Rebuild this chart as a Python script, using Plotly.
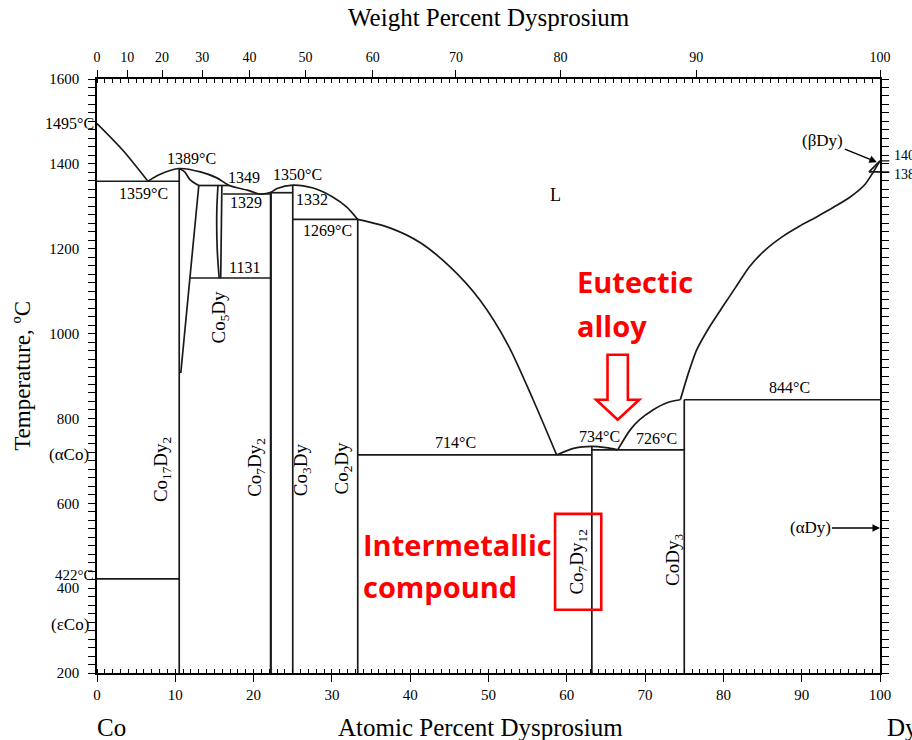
import plotly.graph_objects as go

# ---------------------------------------------------------------
# Co-Dy binary phase diagram (x: at.% Dy, y: temperature in degC)
# ---------------------------------------------------------------

# Atomic masses used to place the weight-percent scale on the top axis
M_CO = 58.933
M_DY = 162.50
weight_ticks = [0, 10, 20, 30, 40, 50, 60, 70, 80, 90, 100]

# Liquidus, Co-rich end: Co melting point down to the 1359 eutectic
liq_co_at = [0, 3.3, 6.5]
liq_co_T = [1495, 1432, 1359]

# Liquidus across Co17Dy2 / Co5Dy / Co7Dy2 / Co3Dy down to the 1269 peritectic
liq_mid_at = [6.5, 8.0, 10.5, 13.2, 15.3, 16.9, 19.2, 20.8, 22.2, 23.0, 25.0, 27.6, 30.1, 31.9, 33.3]
liq_mid_T = [1359, 1375, 1389, 1381, 1367, 1349, 1338, 1329, 1333, 1342, 1350, 1343, 1322, 1298, 1269]

# Liquidus from the 1269 peritectic down to the 714 eutectic
liq_big_at = [33.3, 37.4, 41.3, 45.1, 48.9, 52.5, 55.7, 58.7]
liq_big_T = [1269, 1249, 1214, 1157, 1079, 973, 844, 714]

# Small liquidus dome over Co7Dy12 and the 726 eutectic
liq_dome_at = [58.7, 61.0, 63.2, 65.0, 66.5]
liq_dome_T = [714, 730, 734, 731, 726]

# Liquidus from the 726 eutectic up to the 844 peritectic
liq_rise_at = [66.5, 68.1, 69.3, 71.0, 72.8, 74.5]
liq_rise_T = [726, 773, 797, 820, 837, 844]

# Liquidus from the 844 peritectic up to Dy melting point
liq_dy_at = [74.5, 75.5, 76.6, 78.2, 79.9, 81.6, 83.3, 85.4, 87.5, 89.7, 91.9, 94.0, 96.2, 98.1, 100]
liq_dy_T = [844, 905, 962, 1015, 1063, 1110, 1157, 1198, 1228, 1253, 1275, 1297, 1322, 1352, 1407]

# Solidus at the top of Co17Dy2 and its high-temperature Dy-side boundary
sol17_at = [10.5, 11.2, 11.9, 13.0]
sol17_T = [1389, 1381, 1362, 1349]
bound17_at = [13.0, 10.7]
bound17_T = [1349, 907]

# Co5Dy homogeneity range
co5dy_left_at = [15.45, 15.3, 15.35, 15.6]
co5dy_left_T = [1349, 1290, 1200, 1131]
co5dy_right_at = [15.95, 15.8]
co5dy_right_T = [1349, 1131]

# Dy allotropes
dy_melt = 1407
dy_trans = 1381
beta_dy_at = [100, 98.6, 100]
beta_dy_T = [dy_melt, dy_trans, dy_trans]

# Invariant isotherms
iso_T = [1359, 1349, 1329, 1332, 1269, 1131, 714, 726, 844, 422]
iso_from = [0, 13.0, 16.1, 22.2, 25.0, 11.9, 33.3, 63.2, 75.0, 0]
iso_to = [10.5, 16.9, 22.2, 25.0, 33.3, 22.2, 63.2, 75.0, 100, 10.5]

# Line compounds
comp_at = [10.5, 22.2, 25.0, 33.3, 63.2, 75.0]
comp_top = [1389, 1332, 1350, 1269, 734, 844]
comp_names = ["Co<sub>17</sub>Dy<sub>2</sub>", "Co<sub>7</sub>Dy<sub>2</sub>", "Co<sub>3</sub>Dy",
              "Co<sub>2</sub>Dy", "Co<sub>7</sub>Dy<sub>12</sub>", "CoDy<sub>3</sub>"]

T_MIN, T_MAX = 200, 1600

SERIF = "Liberation Serif"
RED = "#ff0000"
LINE = "#1a1a1a"

fig = go.Figure()


def add_curve(xs, ys, width=1.7, smooth=0.0):
    line = dict(color=LINE, width=width)
    if smooth:
        line.update(shape="spline", smoothing=smooth)
    fig.add_trace(go.Scatter(x=xs, y=ys, mode="lines", line=line,
                             hoverinfo="skip", showlegend=False))


for xs, ys in [(liq_co_at, liq_co_T), (liq_mid_at, liq_mid_T), (liq_big_at, liq_big_T),
               (liq_dome_at, liq_dome_T), (liq_rise_at, liq_rise_T),
               (sol17_at, sol17_T), (co5dy_left_at, co5dy_left_T)]:
    add_curve(xs, ys, smooth=0.8)
add_curve(liq_dy_at, liq_dy_T, smooth=0.6)

for xs, ys in [(bound17_at, bound17_T), (co5dy_right_at, co5dy_right_T), (beta_dy_at, beta_dy_T)]:
    add_curve(xs, ys)

for t, a, b in zip(iso_T, iso_from, iso_to):
    add_curve([a, b], [t, t])

for c, top in zip(comp_at, comp_top):
    add_curve([c, c], [T_MIN, top], width=2.2 if c == 22.2 else 1.7)

# invisible trace that anchors the weight-percent axis
fig.add_trace(go.Scatter(x=[0, 100], y=[T_MIN, T_MIN], xaxis="x2", mode="lines",
                         line=dict(width=0), hoverinfo="skip", showlegend=False))


def wt_to_at(w):
    if w >= 100:
        return 100.0
    n_dy = w / M_DY
    n_co = (100 - w) / M_CO
    return 100.0 * n_dy / (n_dy + n_co)


ann = []


def label(text, x, y, size=16, **kw):
    d = dict(text=text, x=x, y=y, xref="x", yref="y", showarrow=False,
             font=dict(family=SERIF, size=size, color="black"))
    d.update(kw)
    ann.append(d)


# invariant temperatures
label(f"{iso_T[0]}°C", 5.9, 1331)
label(f"{comp_top[0]}°C", 12.1, 1412)
label(f"{iso_T[1]}", 18.8, 1367)
label(f"{iso_T[2]}", 19.0, 1308)
label(f"{iso_T[5]}", 18.9, 1155)
label(f"{comp_top[2]}°C", 25.6, 1374)
label(f"{iso_T[3]}", 27.5, 1315)
label(f"{iso_T[4]}°C", 29.4, 1244)
label(f"{iso_T[6]}°C", 45.8, 743)
label(f"{comp_top[4]}°C", 64.2, 757)
label(f"{iso_T[7]}°C", 71.4, 752)
label(f"{iso_T[8]}°C", 88.5, 874)
label("L", 58.5, 1327, size=18)

# left-edge labels
label(f"{liq_co_T[0]}°C", 0, liq_co_T[0], xanchor="right", xshift=-1)
label(f"{iso_T[9]}°C", 0, 430, xanchor="right", xshift=-1, size=15)
label("(αCo)", 0, 715, xanchor="right", xshift=-6, size=17)
label("(εCo)", 0, 314, xanchor="right", xshift=-6, size=17)

# right-edge Dy temperatures
label(f"{dy_melt}", 100, dy_melt, xanchor="left", xshift=12, yshift=5, size=14)
label(f"{dy_trans}", 100, dy_trans, xanchor="left", xshift=12, yshift=-3, size=14)

# phase arrows
ann.append(dict(text="(βDy)", x=99.6, y=1404, xref="x", yref="y", ax=-54, ay=-22,
                showarrow=True, arrowhead=2, arrowsize=1, arrowwidth=1.5, arrowcolor="black",
                font=dict(family=SERIF, size=17, color="black")))
ann.append(dict(text="(αDy)", x=100, y=542, xref="x", yref="y", ax=-70, ay=0,
                showarrow=True, arrowhead=2, arrowsize=1, arrowwidth=1.5, arrowcolor="black",
                font=dict(family=SERIF, size=17, color="black")))

# compound names
comp_label_pos = [(8.4, 680), (20.2, 684), (26.1, 679), (31.4, 684), (61.4, 462), (73.6, 467)]
for name, (x, y) in zip(comp_names, comp_label_pos):
    label(name, x, y, size=19, textangle=-90)
label("Co<sub>5</sub>Dy", 15.7, 1040, size=19, textangle=-90)

# highlighted annotations
red_font = dict(family="Open Sans", size=29, color=RED)
for text, y in [("Eutectic", 1122), ("alloy", 1019)]:
    ann.append(dict(text=f"<b>{text}</b>", x=61.0, y=y, xref="x", yref="y",
                    xanchor="left", yanchor="middle", showarrow=False, font=red_font))
for text, y in [("Intermetallic", 504), ("compound", 403)]:
    ann.append(dict(text=f"<b>{text}</b>", x=33.7, y=y, xref="x", yref="y",
                    xanchor="left", yanchor="middle", showarrow=False, font=red_font))

# axis captions
cap_font = dict(family=SERIF, size=25, color="black")
ann.append(dict(text="Weight Percent Dysprosium", x=0.5, y=1.103, xref="paper", yref="paper",
                yanchor="middle", showarrow=False, font=cap_font))
ann.append(dict(text="Atomic Percent Dysprosium", x=0.49, y=-0.092, xref="paper", yref="paper",
                yanchor="middle", showarrow=False, font=cap_font))
ann.append(dict(text="Co", x=0, y=-0.092, xref="paper", yref="paper", xshift=14,
                xanchor="center", yanchor="middle", showarrow=False, font=cap_font))
ann.append(dict(text="Dy", x=1, y=-0.092, xref="paper", yref="paper", xshift=5,
                xanchor="left", yanchor="middle", showarrow=False, font=cap_font))
ann.append(dict(text="Temperature, ºC", x=-0.096, y=0.5, xref="paper", yref="paper",
                textangle=-90, showarrow=False, xanchor="center", yanchor="middle",
                font=dict(family=SERIF, size=23, color="black")))

shapes = []
# red hollow arrow pointing at the 726 eutectic composition
ex = liq_rise_at[0]
arrow_pts = [(ex - 1.3, 950), (ex + 1.3, 950), (ex + 1.3, 844), (ex + 2.75, 844),
             (ex, 797), (ex - 2.75, 844), (ex - 1.3, 844)]
path = "M " + " L ".join(f"{x},{y}" for x, y in arrow_pts) + " Z"
shapes.append(dict(type="path", path=path, xref="x", yref="y",
                   line=dict(color=RED, width=2.6), fillcolor="rgba(0,0,0,0)"))
# red frame around the Co7Dy12 name
shapes.append(dict(type="rect", x0=58.5, x1=64.4, y0=349, y1=575, xref="x", yref="y",
                   line=dict(color=RED, width=2.6)))
# outward ticks for the Dy transformation temperatures
for t in (dy_melt, dy_trans):
    shapes.append(dict(type="line", xref="paper", yref="y", x0=1, x1=1.012, y0=t, y1=t,
                       line=dict(color="black", width=1.2)))

tick_font = dict(family=SERIF, size=15, color="black")

fig.update_layout(
    width=912, height=740,
    margin=dict(l=97, r=32, t=79, b=67),
    paper_bgcolor="white", plot_bgcolor="white",
    showlegend=False,
    annotations=ann, shapes=shapes,
    xaxis=dict(range=[0, 100], tickvals=list(range(0, 101, 10)), ticks="outside", ticklen=7,
               tickwidth=1.2, tickcolor="black", showline=True, linecolor="black", linewidth=1.5,
               showgrid=False, zeroline=False, tickfont=tick_font,
               minor=dict(dtick=1, tick0=0, ticks="inside", ticklen=4, tickcolor="black",
                          tickwidth=1, showgrid=False)),
    xaxis2=dict(range=[0, 100], overlaying="x", side="top", anchor="y",
                tickvals=[wt_to_at(w) for w in weight_ticks], ticktext=[str(w) for w in weight_ticks],
                ticks="outside", ticklen=7, tickwidth=1.2, tickcolor="black", ticklabelstandoff=3,
                showline=True, linecolor="black", linewidth=1.5, showgrid=False, zeroline=False,
                tickfont=dict(family=SERIF, size=14, color="black"),
                minor=dict(dtick=1, tick0=0, ticks="inside", ticklen=4, tickcolor="black",
                           tickwidth=1, showgrid=False)),
    yaxis=dict(range=[T_MIN, T_MAX], dtick=200, tick0=0, ticks="outside", ticklen=7, tickwidth=1.2,
               tickcolor="black", showline=True, linecolor="black", linewidth=1.5, mirror="allticks",
               showgrid=False, zeroline=False, tickfont=tick_font, ticklabelstandoff=6,
               minor=dict(dtick=20, tick0=0, ticks="outside", ticklen=4, tickcolor="black",
                          tickwidth=1, showgrid=False)),
)

fig.write_html("out.html")
